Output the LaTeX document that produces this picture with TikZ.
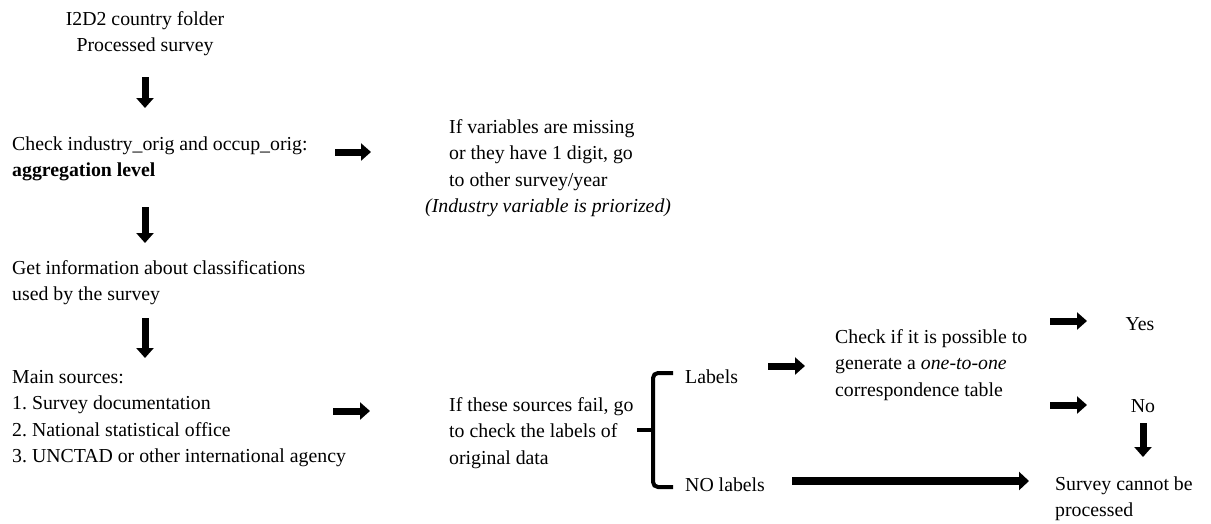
\documentclass[tikz,border=0pt]{standalone}
\usepackage{fontspec}
\setmainfont{Liberation Serif}
\usetikzlibrary{arrows.meta}
\frenchspacing
\newcommand{\lnsL}[1]{\begin{tabular}[t]{@{}l@{}}#1\end{tabular}}
\newcommand{\lnsC}[1]{\begin{tabular}[t]{@{}c@{}}#1\end{tabular}}
\begin{document}
\begin{tikzpicture}[x=1pt,y=-1pt,
  txt/.style={inner sep=0pt, anchor=base west, font=\fontsize{19.8}{26.5}\selectfont\frenchspacing},
  fat/.style={line width=7pt, -{Triangle[width=17pt,length=10pt]}},
  fatlong/.style={line width=8pt, -{Triangle[width=18pt,length=10pt]}},
  bracestyle/.style={line width=4pt, rounded corners=5pt}]
\useasboundingbox (0,0) rectangle (1211,523);
% texts
\node[txt, anchor=base] (title) at (145,25) {\lnsC{I2D2 country folder\\Processed survey}};
\node[txt] (check) at (12,150) {\lnsL{Check industry\_orig and occup\_orig:\\\textbf{aggregation level}}};
\node[txt] (missing) at (449,133) {\lnsL{If variables are missing\\or they have 1 digit, go\\to other survey/year\\\hspace*{-24pt}\textit{(Industry variable is priorized)}}};
\node[txt] (info) at (12,274) {\lnsL{Get information about classifications\\used by the survey}};
\node[txt] (main) at (12,383) {\lnsL{Main sources:\\1. Survey documentation\\2. National statistical office\\3. UNCTAD or other international agency}};
\node[txt] (fail) at (449,411) {\lnsL{If these sources fail, go\\to check the labels of\\original data}};
\node[txt] (labels) at (685,383) {Labels};
\node[txt] (nolabels) at (685,491) {NO labels};
\node[txt] (possible) at (835,343) {\lnsL{Check if it is possible to\\generate a \textit{one-to-one}\\correspondence table}};
\node[txt, anchor=base] (yes) at (1140,330) {Yes};
\node[txt, anchor=base] (no) at (1143,412) {No};
\node[txt] (cannot) at (1055,490) {\lnsL{Survey cannot be\\processed}};
% arrow end points
\coordinate (d1s) at (145,77);  \coordinate (d1e) at (145,108);
\coordinate (r1s) at (335,152); \coordinate (r1e) at (371,152);
\coordinate (d2s) at (145,207); \coordinate (d2e) at (145,243);
\coordinate (d3s) at (145,318); \coordinate (d3e) at (145,358);
\coordinate (r2s) at (333,411); \coordinate (r2e) at (370,411);
\coordinate (r3s) at (768,366); \coordinate (r3e) at (805,366);
\coordinate (ys) at (1050,321); \coordinate (ye) at (1087,321);
\coordinate (ns) at (1050,405); \coordinate (ne) at (1087,405);
\coordinate (dns) at (1143,423); \coordinate (dne) at (1143,457);
\coordinate (ls) at (792,481); \coordinate (le) at (1029,481);
\draw[fat] (d1s) -- (d1e);
\draw[fat] (r1s) -- (r1e);
\draw[fat] (d2s) -- (d2e);
\draw[fat] (d3s) -- (d3e);
\draw[fat] (r2s) -- (r2e);
\draw[fat] (r3s) -- (r3e);
\draw[fat] (ys) -- (ye);
\draw[fat] (ns) -- (ne);
\draw[fat] (dns) -- (dne);
\draw[fatlong] (ls) -- (le);
% brace
\coordinate (bt) at (673,373);
\coordinate (bb) at (673,487);
\coordinate (bm) at (637,430);
\draw[bracestyle] (bt) -| (653,430) |- (bb);
\draw[line width=4pt] (653,430) -- (bm);
\end{tikzpicture}
\end{document}
